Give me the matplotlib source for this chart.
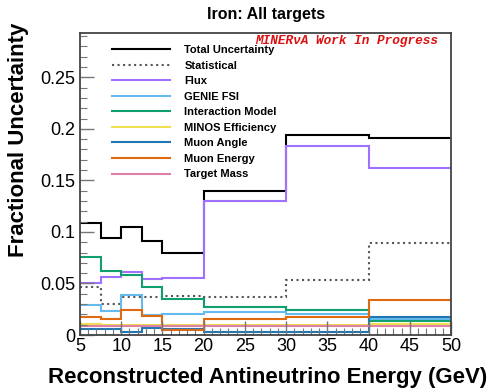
import numpy as np
import matplotlib.pyplot as plt
from matplotlib.ticker import MultipleLocator

plt.rcParams['font.family'] = ['Liberation Sans', 'DejaVu Sans']

edges = [5, 7.5, 10, 12.5, 15, 20, 30, 40, 50]

total = [0.109, 0.094, 0.105, 0.091, 0.080, 0.140, 0.194, 0.191]
statistical = [0.047, 0.030, 0.037, 0.037, 0.038, 0.037, 0.053, 0.089]
flux = [0.050, 0.056, 0.061, 0.054, 0.055, 0.130, 0.183, 0.162]
genie_fsi = [0.029, 0.023, 0.039, 0.019, 0.020, 0.022, 0.020, 0.016]
interaction = [0.076, 0.062, 0.058, 0.047, 0.035, 0.027, 0.024, 0.014]
minos_eff = [0.011, 0.010, 0.010, 0.010, 0.010, 0.010, 0.010, 0.011]
muon_angle = [0.006, 0.006, 0.003, 0.007, 0.006, 0.003, 0.003, 0.017]
muon_energy = [0.017, 0.016, 0.024, 0.018, 0.005, 0.016, 0.017, 0.034]
target_mass = [0.0085, 0.0085, 0.0085, 0.0085, 0.0085, 0.0085, 0.0085, 0.0085]

series = [
    ('Total Uncertainty', total, 'black', '-'),
    ('Statistical', statistical, '#555555', ':'),
    ('Flux', flux, '#a070ff', '-'),
    ('GENIE FSI', genie_fsi, '#66bbee', '-'),
    ('Interaction Model', interaction, '#10a070', '-'),
    ('MINOS Efficiency', minos_eff, '#eee050', '-'),
    ('Muon Angle', muon_angle, '#1f77b4', '-'),
    ('Muon Energy', muon_energy, '#e06a10', '-'),
    ('Target Mass', target_mass, '#dd80aa', '-'),
]

fig = plt.figure(figsize=(4.91, 3.90), dpi=100)
ax = fig.add_axes([80 / 491, 1 - 335 / 390, 371 / 491, 302 / 390])

for name, vals, color, ls in series:
    ax.stairs(vals, edges, color=color, linestyle=ls, linewidth=1.5,
              baseline=None, label=name)

ax.set_xlim(5, 50)
ax.set_ylim(0, 0.293)
ax.xaxis.set_major_locator(MultipleLocator(5))
ax.xaxis.set_minor_locator(MultipleLocator(1))
ax.yaxis.set_major_locator(MultipleLocator(0.05))
ax.yaxis.set_minor_locator(MultipleLocator(0.01))
ax.set_yticks([0, 0.05, 0.1, 0.15, 0.2, 0.25])
ax.set_yticklabels(['0', '0.05', '0.1', '0.15', '0.2', '0.25'])
ax.tick_params(which='both', direction='in', top=False, right=False,
               labelsize=13, color='#777777')
ax.tick_params(which='major', length=10, width=1)
ax.tick_params(which='minor', length=5, width=0.8)
ax.tick_params(axis='x', pad=2)
for sp in ax.spines.values():
    sp.set_color('#444444')
    sp.set_linewidth(1.3)

fig.text(268 / 491, 1 - 378 / 390, 'Reconstructed Antineutrino Energy (GeV)',
         ha='center', va='center', fontsize=16, fontweight='bold')
fig.text(19 / 491, 1 - 140 / 390, 'Fractional Uncertainty', rotation=90,
         ha='center', va='center', fontsize=16, fontweight='bold')
fig.text(266 / 491, 1 - 14 / 390, 'Iron: All targets', ha='center',
         va='center', fontsize=11.5, fontweight='bold')
ax.text(0.965, 0.995, 'MINERνA Work In Progress', transform=ax.transAxes,
        ha='right', va='top', color='#dd1111', fontsize=9.2,
        family=['Liberation Mono', 'DejaVu Sans Mono'],
        style='italic', fontweight='semibold')

leg = ax.legend(loc='upper left', bbox_to_anchor=(0.075, 0.975), frameon=False,
                fontsize=8, handlelength=5.2, handletextpad=1.3,
                labelspacing=0.5, borderaxespad=0)
for t in leg.get_texts():
    t.set_fontweight('bold')

fig.savefig('out.png', dpi=100)
